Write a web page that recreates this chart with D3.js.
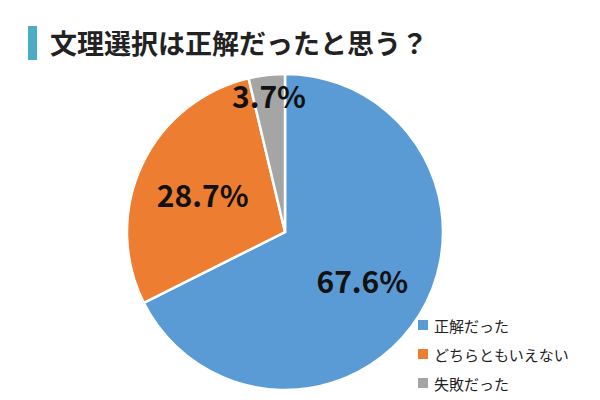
<!DOCTYPE html>
<html><head><meta charset="utf-8">
<script src="https://cdn.jsdelivr.net/npm/d3@7"></script>
<style>body{margin:0;background:#fff}</style>
</head><body>
<svg id="chart" width="600" height="400"></svg>
<script>
// data
var categories = ["正解だった", "どちらともいえない", "失敗だった"];
var values = [67.6, 28.7, 3.7];
var colors = ["#5b9bd5", "#ed7d31", "#a5a5a5"];
var labelPos = [[365, 280], [195, 210], [268, 100]]; // label anchors

var svg = d3.select("#chart");
var font = "'Noto Sans CJK JP', 'Noto Sans', sans-serif";

svg.append("rect").attr("x", 28).attr("y", 26).attr("width", 9).attr("height", 34).attr("fill", "#4bacc6");
svg.append("text").attr("x", 50).attr("y", 54)
    .attr("font-family", font).attr("font-size", 27).attr("font-weight", "bold").attr("fill", "#222")
    .text("文理選択は正解だったと思う？");

var cx = 285, cy = 232, r = 158;
var pie = d3.pie().sort(null).value(d => d);
var arc = d3.arc().innerRadius(0).outerRadius(r);
var g = svg.append("g").attr("transform", `translate(${cx},${cy})`);
var arcs = pie(values);
g.selectAll("path").data(arcs).enter().append("path")
    .attr("d", arc).attr("fill", (d, i) => colors[i])
    .attr("stroke", "#fff").attr("stroke-width", 2.5);

// percentage labels placed on the slice centroids, scaled outward
arcs.forEach((d, i) => {
    var c = d3.arc().innerRadius(0).outerRadius(r * (i == 2 ? 1.75 : 1.15)).centroid(d);
    svg.append("text").attr("x", cx + c[0]).attr("y", cy + c[1])
        .attr("text-anchor", "middle").attr("dominant-baseline", "central")
        .attr("font-family", font).attr("font-size", 30).attr("font-weight", "bold").attr("fill", "#111")
        .text(values[i].toFixed(1) + "%");
});

var legend = svg.append("g").attr("transform", "translate(418,318)");
categories.forEach((c, i) => {
    legend.append("rect").attr("x", 0).attr("y", i * 29 + 2).attr("width", 10).attr("height", 10).attr("fill", colors[i]);
    legend.append("text").attr("x", 16).attr("y", i * 29 + 7).attr("dominant-baseline", "central")
        .attr("font-family", font).attr("font-size", 15).attr("fill", "#222").text(c);
});
</script>
</body></html>
